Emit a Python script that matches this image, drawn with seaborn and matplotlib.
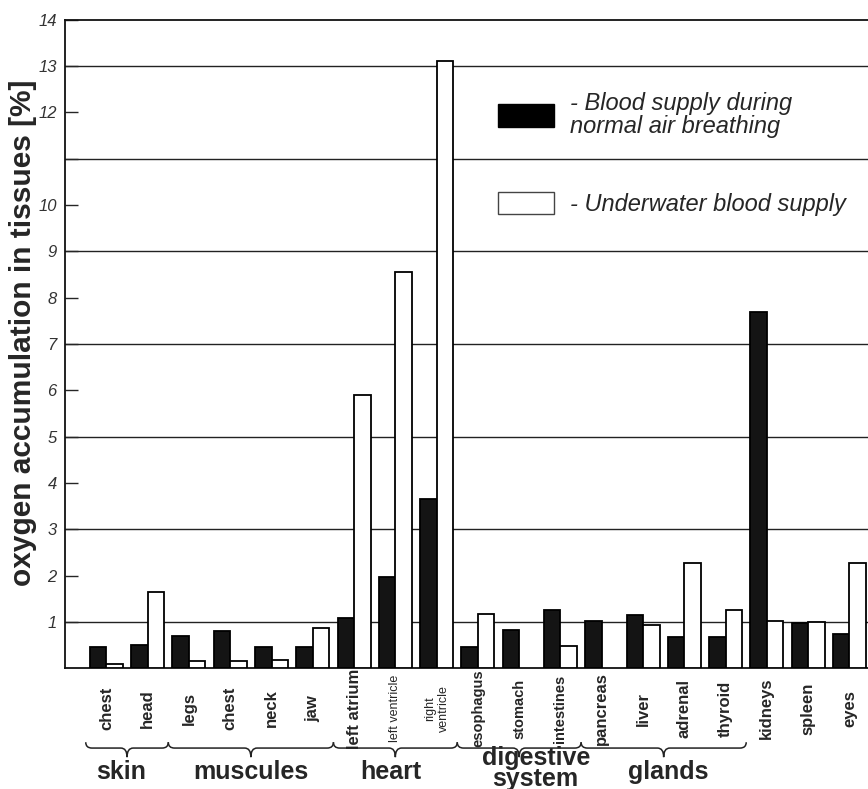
import numpy as np
import pandas as pd
import matplotlib.pyplot as plt
import seaborn as sns
from matplotlib.patches import Patch, PathPatch
from matplotlib.path import Path
from matplotlib.transforms import blended_transform_factory

sns.set_theme(style="ticks")
plt.rcParams['font.family'] = ['Liberation Sans', 'DejaVu Sans']

# Data
organs = ['skin_chest', 'head', 'legs', 'muscle_chest', 'neck', 'jaw',
          'left_atrium', 'left_ventricle', 'right_ventricle',
          'esophagus', 'stomach', 'intestines',
          'pancreas', 'liver', 'adrenal', 'thyroid',
          'kidneys', 'spleen', 'eyes']
tick_labels = ['chest', 'head', 'legs', 'chest', 'neck', 'jaw',
               'left atrium', 'left ventricle', 'right\nventricle',
               'esophagus', 'stomach', 'intestines',
               'pancreas', 'liver', 'adrenal', 'thyroid',
               'kidneys', 'spleen', 'eyes']
normal_air = [0.45, 0.5, 0.7, 0.8, 0.45, 0.45, 1.08, 1.97, 3.65,
              0.45, 0.82, 1.25, 1.03, 1.14, 0.67, 0.67, 7.7, 0.97, 0.73]
underwater = [0.1, 1.65, 0.15, 0.15, 0.17, 0.87, 5.9, 8.55, 13.1,
              1.17, np.nan, 0.48, np.nan, 0.93, 2.27, 1.25, 1.01, 0.99, 2.27]
groups = ['skin', 'muscules', 'heart', 'digestive\nsystem', 'glands']
group_first = [0, 2, 6, 9, 12]
group_last = [1, 5, 8, 11, 15]

df = pd.concat([
    pd.DataFrame({'organ': organs, 'value': normal_air, 'supply': 'normal'}),
    pd.DataFrame({'organ': organs, 'value': underwater, 'supply': 'underwater'}),
], ignore_index=True)

fig = plt.figure(figsize=(8.68, 7.89), dpi=100)
ax = fig.add_axes([0.075, 0.153, 0.925, 0.822])

sns.barplot(data=df, x='organ', y='value', hue='supply', order=organs,
            palette={'normal': '#141414', 'underwater': 'white'},
            edgecolor='black', linewidth=1.3, width=0.8, errorbar=None,
            legend=False, zorder=3, ax=ax)

# odd gridlines, short ticks on even values
for y in [1, 3, 5, 7, 9, 11, 13]:
    ax.axhline(y, color='#222222', linewidth=1, zorder=0)

ax.set_xlim(-1, 18.45)
ax.set_ylim(0, 14)
yt = list(range(1, 15))
ax.set_yticks(yt)
ax.set_yticklabels(['' if v == 11 else str(v) for v in yt],
                   fontstyle='italic', fontsize=12, color='#333333')
ax.tick_params(axis='y', direction='in', length=9, width=1, pad=6)
ax.tick_params(axis='x', length=0, pad=29)
ax.set_xticks(range(len(organs)))
ax.set_xticklabels(tick_labels, rotation=90)
for lab, txt in zip(ax.get_xticklabels(), tick_labels):
    lab.set_va('center')
    if 'ventricle' in txt:
        lab.set_fontsize(9)
    elif txt in ('esophagus', 'stomach', 'intestines'):
        lab.set_fontsize(10.5)
        lab.set_fontweight('bold')
    else:
        lab.set_fontsize(12)
        lab.set_fontweight('bold')

ax.set_xlabel('')
ax.set_ylabel('oxygen accumulation in tissues [%]', fontsize=21.5,
              fontweight='bold')
ax.yaxis.set_label_coords(-0.035, 0.518)

for s in ['left', 'bottom', 'top']:
    ax.spines[s].set_color('#111111')
    ax.spines[s].set_linewidth(1.3)
ax.spines['right'].set_visible(False)

# group braces below the tick labels
trans = blended_transform_factory(ax.transData, ax.transAxes)
ye, yl, yt_ = -0.114, -0.123, -0.137
q = 0.15
name_x = [0.35, 3.5, 6.9, 10.4, 13.6]
for name, i0, i1, nx in zip(groups, group_first, group_last, name_x):
    x0, x1 = i0 - 0.5, i1 + 0.5
    xm = (x0 + x1) / 2
    verts = [(x0, ye), (x0, yl), (x0 + q, yl), (xm - q, yl),
             (xm, yl), (xm, yt_), (xm, yl), (xm + q, yl),
             (x1 - q, yl), (x1, yl), (x1, ye)]
    codes = [Path.MOVETO, Path.CURVE3, Path.CURVE3, Path.LINETO,
             Path.CURVE3, Path.CURVE3, Path.CURVE3, Path.CURVE3,
             Path.LINETO, Path.CURVE3, Path.CURVE3]
    ax.add_patch(PathPatch(Path(verts, codes), transform=trans, fill=False,
                           edgecolor='#222222', linewidth=1.1, clip_on=False))
    ny = -0.155 if '\n' in name else -0.16
    ax.text(nx, ny, name, transform=trans, ha='center', va='center',
            fontsize=18, fontweight='bold', linespacing=0.85)

handles = [Patch(facecolor='black', edgecolor='black'),
           Patch(facecolor='white', edgecolor='#444444')]
leg = ax.legend(handles, ['- Blood supply during\nnormal air breathing',
                          '- Underwater blood supply'],
                loc='upper left', bbox_to_anchor=(0.513, 0.922), frameon=False,
                prop={'style': 'italic', 'size': 17}, handlelength=2.35,
                handleheight=1.07, handletextpad=0.7, labelspacing=2.3)
for t in leg.get_texts():
    t.set_linespacing(1.0)

plt.savefig('out.png', dpi=100)
